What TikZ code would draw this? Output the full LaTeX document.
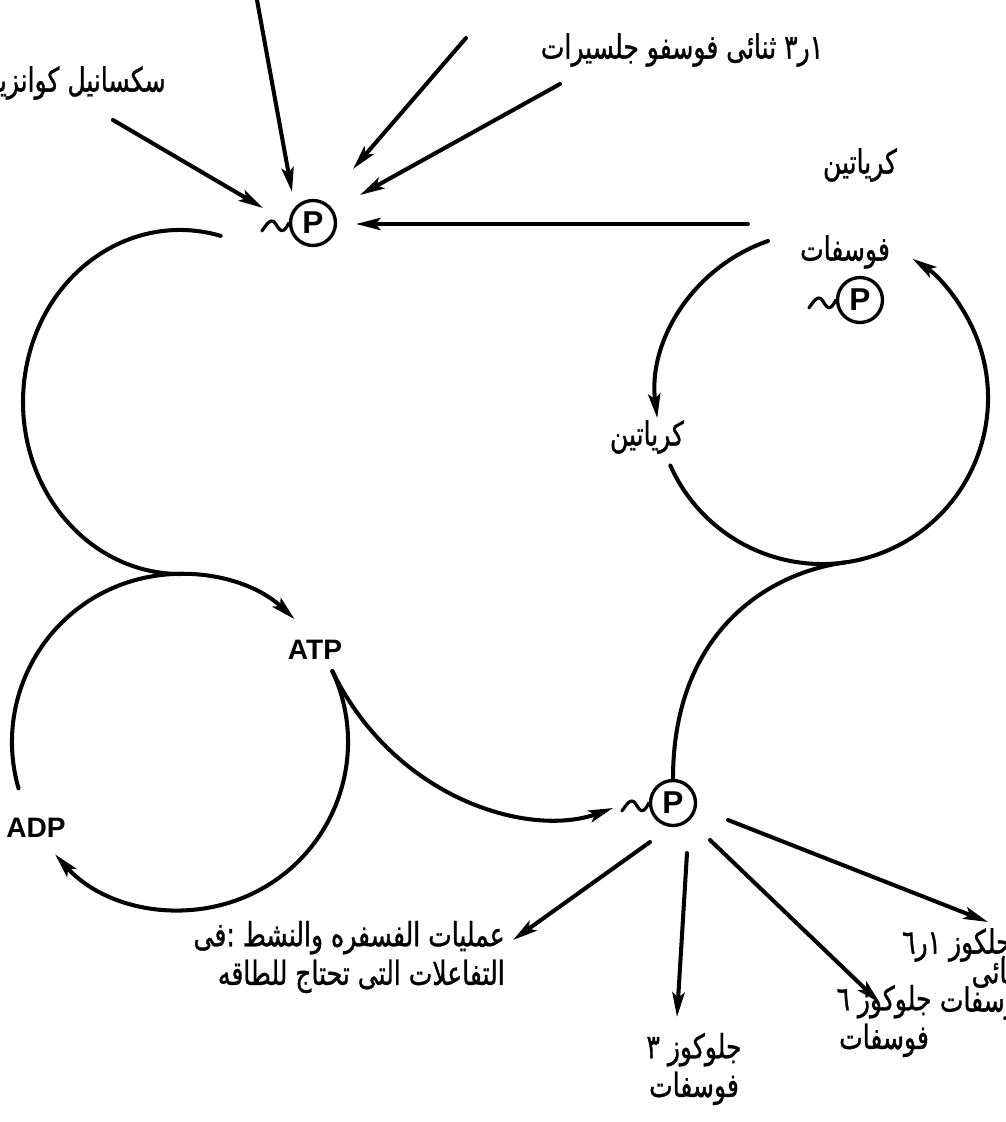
\documentclass[tikz,border=0pt]{standalone}
\usepackage{fontspec}
\setsansfont{Liberation Sans}
\newfontfamily\arabicfont[Script=Arabic, FakeStretch=0.75, FakeBold=1]{DejaVu Sans}
\TeXXeTstate=1
\usetikzlibrary{arrows.meta}
\definecolor{pen}{RGB}{0,0,0}
\newcommand\artext[1]{{\beginR #1\endR}}
% little wave on the left of a phosphate group
\newcommand\wavy[1]{%
  \draw[pen, line width=1.8pt] (#1.west) .. controls +(-5,-10) and +(5,-9) .. ++(-13,-1)
        .. controls +(-5,8) and +(4,5) .. ++(-14,-7);}

\begin{document}
\begin{tikzpicture}[x=0.02cm, y=0.02cm, line cap=round, line join=round,
    line/.style={pen, line width=2.3pt},
    arr/.style={line, -{Stealth[length=14pt,width=7pt,inset=3pt]}},
    phos/.style={circle, draw=pen, line width=1.9pt, minimum size=0.9cm, inner sep=0pt,
                 font=\sffamily\bfseries\fontsize{18}{18}\selectfont},
    lbl/.style={font=\arabicfont\fontsize{19}{22}\selectfont, inner sep=0pt},
    eng/.style={font=\sffamily\bfseries\fontsize{16}{16}\selectfont, inner sep=0pt}]

  \useasboundingbox (0,0) rectangle (1005,-1122);

  %========= geometry parameters =========
  \def\rL{168}   % radius of the ATP/ADP circle
  \def\rR{166}   % radius of the creatine circle
  \coordinate (cL) at (180,-742);   % centre ATP/ADP circle
  \coordinate (cR) at (822,-398);   % centre creatine circle
  \coordinate (cU) at (180,-402);   % centre of the big upper-left bow

  %========= phosphate groups =========
  \node[phos] (pT) at (313,-223) {P};
  \node[phos] (pC) at (860,-300) {P};
  \node[phos] (pB) at (673,-803) {P};
  \wavy{pT} \wavy{pC} \wavy{pB}

  %========= labels =========
  \node[lbl] (dpg) at (682,-50) {\artext{١ر٣ ثنائى فوسفو جلسيرات}};
  \node[lbl, anchor=east] (scoa) at (166,-83) {\artext{سكسانيل كوانزيم}};
  \node[lbl] (crp1) at (860,-165) {\artext{كرياتين}};
  \node[lbl] (crp2) at (845,-252) {\artext{فوسفات}};
  \node[lbl] (cr) at (647,-437) {\artext{كرياتين}};
  \node[eng] (atp) at (315,-650) {ATP};
  \node[eng] (adp) at (36,-828) {ADP};
  \node[lbl, align=right, anchor=east] (work) at (505,-957)
       {\artext{عمليات الفسفره والنشط :فى}\\\artext{التفاعلات التى تحتاج للطاقه}};
  \node[lbl, align=center] (g3p) at (694,-1069) {\artext{جلوكوز ٣}\\\artext{فوسفات}};
  \node[lbl, align=center] (g6p) at (884,-1021) {\artext{جلوكوز ٦}\\\artext{فوسفات}};
  \node[lbl, anchor=east] (g16a) at (1012,-945) {\artext{جلكوز ١ر٦}};
  \node[lbl, anchor=east] (g16b) at (1022,-973) {\artext{ثنائى}};
  \node[lbl, anchor=east] (g16c) at (1030,-1003) {\artext{فوسفات}};

  %========= arrows into the upper P =========
  \coordinate (srcA) at (257,0);     \coordinate (inA) at (292,-192);
  \coordinate (srcB) at (466,-38);   \coordinate (inB) at (353,-169);
  \coordinate (srcC) at (560,-84);   \coordinate (inC) at (360,-195);
  \coordinate (srcD) at (113,-120);  \coordinate (inD) at (263,-208);
  \coordinate (srcE) at (748,-224);  \coordinate (inE) at (356,-224);
  \foreach \k in {A,B,C,D,E}
    \draw[arr] (src\k) -- (in\k);

  %========= big bow: upper P -> ATP/ADP circle =========
  \draw[line] ([shift={(75:157 and 172)}]cU)
        arc[start angle=75, end angle=270, x radius=157, y radius=172];

  %========= ATP/ADP circle =========
  \draw[arr] ([shift={(196:\rL)}]cL) arc[start angle=196, end angle=47, radius=\rL];
  \draw[arr] ([shift={(25:\rL)}]cL) arc[start angle=25, end angle=-138, radius=\rL];
  \coordinate (inP) at (613,-808);
  \draw[arr] ([shift={(25:\rL)}]cL) .. controls +(63,-129) and +(-83,-30) .. (inP);

  %========= creatine circle =========
  \draw[arr] ([shift={(109:\rR)}]cR) arc[start angle=109, end angle=187, radius=\rR];
  \draw[arr] ([shift={(204:\rR)}]cR) arc[start angle=204, end angle=417, radius=\rR];
  \draw[line] ([shift={(278:\rR)}]cR) .. controls +(-85,-12) and +(0,140) .. (pB.north);

  %========= arrows out of the lower P =========
  \coordinate (outF) at (650,-842);  \coordinate (tipF) at (513,-940);
  \coordinate (outG) at (687,-853);  \coordinate (tipG) at (677,-1017);
  \coordinate (outH) at (710,-840);  \coordinate (tipH) at (880,-1003);
  \coordinate (outI) at (728,-820);  \coordinate (tipI) at (988,-922);
  \foreach \k in {F,G,H,I}
    \draw[arr] (out\k) -- (tip\k);
\end{tikzpicture}
\end{document}
